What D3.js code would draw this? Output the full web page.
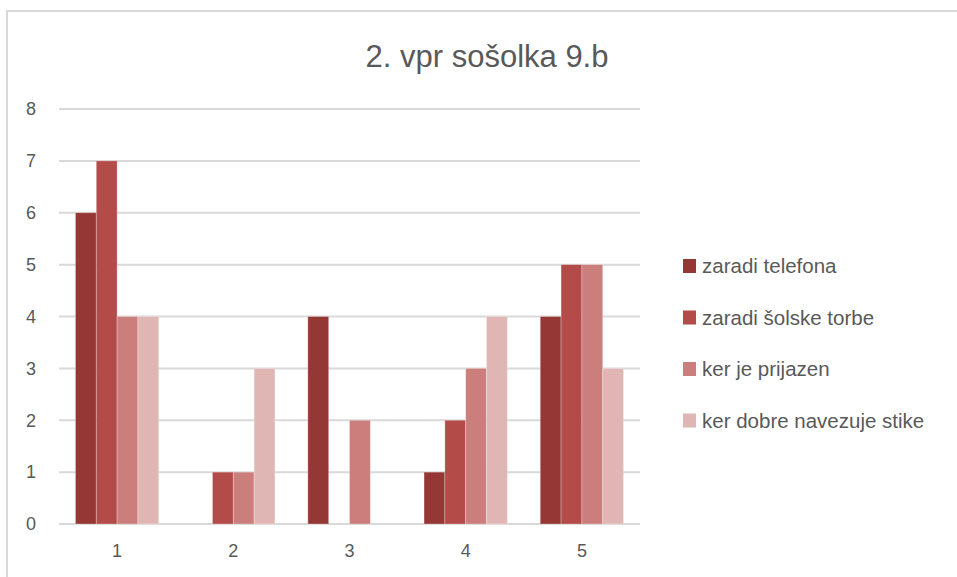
<!DOCTYPE html>
<html>
<head>
<meta charset="utf-8">
<script src="https://cdn.jsdelivr.net/npm/d3@7"></script>
<style>
  body { margin: 0; background: #fff; }
  text { font-family: "Liberation Sans", "DejaVu Sans", sans-serif; fill: #595959; }
</style>
</head>
<body>
<svg></svg>
<script>
var categories = ['1', '2', '3', '4', '5'];
var seriesNames = ['zaradi telefona', 'zaradi šolske torbe', 'ker je prijazen', 'ker dobre navezuje stike'];
var telefona = [6, 0, 4, 1, 4];
var torbe = [7, 1, 0, 2, 5];
var prijazen = [4, 1, 2, 3, 5];
var stike = [4, 3, 0, 4, 3];
var yTicks = [0, 1, 2, 3, 4, 5, 6, 7, 8];
var colors = ['#953735', '#b34b48', '#cc7e7c', '#e0b6b5'];

var seriesValues = [telefona, torbe, prijazen, stike];

var width = 957,
  height = 577;

var svg = d3.select('svg')
  .attr('width', width)
  .attr('height', height);

// chart border
svg.append('rect')
  .attr('x', 7).attr('y', 11)
  .attr('width', 960).attr('height', 580)
  .attr('fill', 'none')
  .attr('stroke', '#d9d9d9')
  .attr('stroke-width', 2);

svg.append('text')
  .attr('x', 487).attr('y', 67)
  .attr('text-anchor', 'middle')
  .style('font-size', '31px')
  .text('2. vpr sošolka 9.b');

var x = d3.scaleBand().domain(categories).range([59, 640]).paddingInner(0).paddingOuter(0);
var xInner = d3.scaleBand().domain(seriesNames).range([0, x.bandwidth()]).paddingOuter(0.79).paddingInner(0);
var y = d3.scaleLinear().domain([0, 8]).range([524, 109]);

// gridlines
svg.append('g').selectAll('line').data(yTicks).join('line')
  .attr('x1', 59).attr('x2', 640)
  .attr('y1', d => y(d)).attr('y2', d => y(d))
  .attr('stroke', '#d9d9d9')
  .attr('stroke-width', 2);

// y labels
svg.append('g').selectAll('text').data(yTicks).join('text')
  .attr('x', 31).attr('y', d => y(d))
  .attr('dy', '0.35em')
  .attr('text-anchor', 'middle')
  .style('font-size', '18px')
  .text(d => d);

// x labels
svg.append('g').selectAll('text').data(categories).join('text')
  .attr('x', d => x(d) + x.bandwidth() / 2).attr('y', 557)
  .attr('text-anchor', 'middle')
  .style('font-size', '18px')
  .text(d => d);

// bars
var groups = svg.append('g').selectAll('g').data(seriesNames).join('g')
  .attr('fill', (d, i) => colors[i]);

groups.selectAll('rect')
  .data((s, si) => categories.map((c, ci) => ({ s: s, c: c, v: seriesValues[si][ci] })))
  .join('rect')
  .attr('x', d => x(d.c) + xInner(d.s))
  .attr('y', d => y(d.v))
  .attr('width', xInner.bandwidth())
  .attr('height', d => y(0) - y(d.v))
  .attr('stroke', d => d.v > 0 ? 'rgba(255,255,255,0.35)' : 'none')
  .attr('stroke-width', 0.8);

// legend
var legend = svg.append('g').selectAll('g').data(seriesNames).join('g')
  .attr('transform', (d, i) => 'translate(683,' + (266 + i * 51.5) + ')');

legend.append('rect')
  .attr('x', 0).attr('y', -7)
  .attr('width', 13).attr('height', 14)
  .attr('fill', (d, i) => colors[i]);

legend.append('text')
  .attr('x', 19).attr('y', 0)
  .attr('dy', '0.35em')
  .style('font-size', '20.5px')
  .text(d => d);
</script>
</body>
</html>
